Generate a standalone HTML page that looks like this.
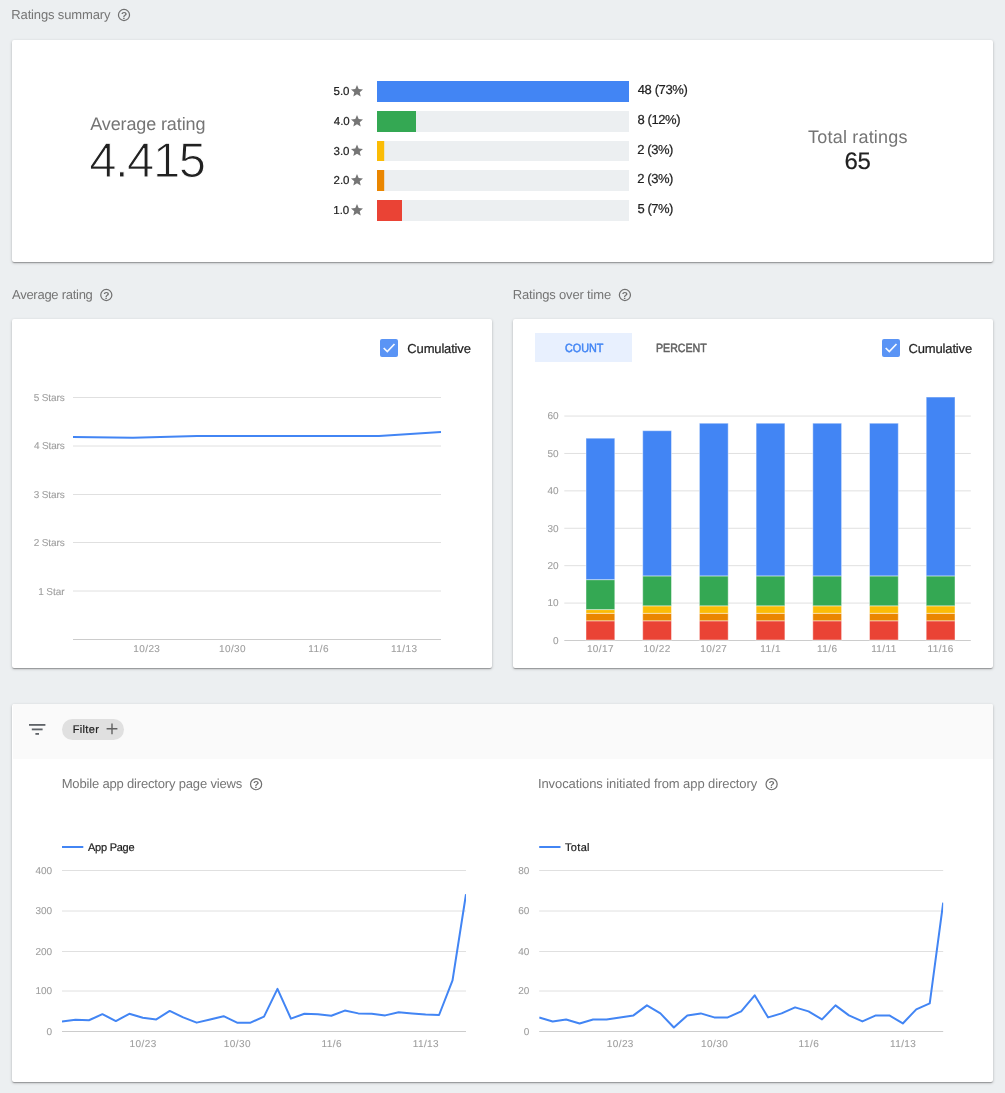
<!DOCTYPE html>
<html lang="en"><head><meta charset="utf-8"><title>Ratings</title>
<style>
html,body{margin:0;padding:0}
body{width:1005px;height:1093px;background:#eceff1;position:relative;overflow:hidden;font-family:"Liberation Sans", Arial, sans-serif;}
.card{position:absolute;background:#fff;border-radius:2px;box-shadow:0 1px 3px rgba(0,0,0,.24),0 1px 1px rgba(0,0,0,.14),0 2px 1px -1px rgba(0,0,0,.12)}
.hdr{position:absolute;left:1px;top:0;right:0;height:54.8px;background:#fafafa;border-radius:2px 2px 0 0}
svg.g{position:absolute;left:0;top:0}
.t{position:absolute;white-space:pre;line-height:normal;font-family:"Liberation Sans", Arial, sans-serif;text-rendering:geometricPrecision;}
.light{-webkit-text-stroke:1.1px #fff;}
.lb{-webkit-text-stroke:.1px currentColor;}
.bd{-webkit-text-stroke:.2px currentColor;}
.med{-webkit-text-stroke:.5px currentColor;}
</style></head>
<body>
<div class="card" style="left:12px;top:40px;width:981px;height:222px"></div>
<div class="card" style="left:12px;top:319px;width:479.5px;height:349px"></div>
<div class="card" style="left:512.6px;top:319px;width:480.4px;height:349px"></div>
<div class="card" style="left:12px;top:704px;width:981px;height:378.3px"><div class="hdr"></div></div>
<svg class="g" width="1005" height="1093" viewBox="0 0 1005 1093">
<circle cx="124.00" cy="15.00" r="5.55" fill="none" stroke="#707070" stroke-width="1.23"/>
<text x="124.05" y="18.55" text-anchor="middle" font-family="Liberation Sans, Arial, sans-serif" font-size="10.2" font-weight="700" fill="#707070" style="text-rendering:geometricPrecision">?</text>
<circle cx="106.30" cy="295.00" r="5.55" fill="none" stroke="#707070" stroke-width="1.23"/>
<text x="106.35" y="298.55" text-anchor="middle" font-family="Liberation Sans, Arial, sans-serif" font-size="10.2" font-weight="700" fill="#707070" style="text-rendering:geometricPrecision">?</text>
<circle cx="624.90" cy="295.00" r="5.55" fill="none" stroke="#707070" stroke-width="1.23"/>
<text x="624.95" y="298.55" text-anchor="middle" font-family="Liberation Sans, Arial, sans-serif" font-size="10.2" font-weight="700" fill="#707070" style="text-rendering:geometricPrecision">?</text>
<rect x="377" y="81" width="252" height="21" fill="#eceff1"/>
<rect x="377" y="81" width="252" height="21" fill="#4285f4"/>
<g transform="translate(349.80 83.90) scale(0.6000)" fill="#757575"><path d="M12 17.27L18.18 21l-1.640-7.030L22 9.240l-7.190-.610L12 2 9.190 8.630 2 9.240l5.460 4.730L5.820 21z"/></g>
<rect x="377" y="111" width="252" height="21" fill="#eceff1"/>
<rect x="377" y="111" width="39" height="21" fill="#34a853"/>
<g transform="translate(349.80 113.90) scale(0.6000)" fill="#757575"><path d="M12 17.27L18.18 21l-1.640-7.030L22 9.240l-7.190-.610L12 2 9.190 8.630 2 9.240l5.460 4.730L5.820 21z"/></g>
<rect x="377" y="141" width="252" height="20" fill="#eceff1"/>
<rect x="377" y="141" width="7.2" height="20" fill="#fbbc05"/>
<g transform="translate(349.80 143.40) scale(0.6000)" fill="#757575"><path d="M12 17.27L18.18 21l-1.640-7.030L22 9.240l-7.190-.610L12 2 9.190 8.630 2 9.240l5.460 4.730L5.820 21z"/></g>
<rect x="377" y="170" width="252" height="21" fill="#eceff1"/>
<rect x="377" y="170" width="7.2" height="21" fill="#ea8600"/>
<g transform="translate(349.80 172.90) scale(0.6000)" fill="#757575"><path d="M12 17.27L18.18 21l-1.640-7.030L22 9.240l-7.190-.610L12 2 9.190 8.630 2 9.240l5.460 4.730L5.820 21z"/></g>
<rect x="377" y="200" width="252" height="21" fill="#eceff1"/>
<rect x="377" y="200" width="25" height="21" fill="#ea4335"/>
<g transform="translate(349.80 202.90) scale(0.6000)" fill="#757575"><path d="M12 17.27L18.18 21l-1.640-7.030L22 9.240l-7.190-.610L12 2 9.190 8.630 2 9.240l5.460 4.730L5.820 21z"/></g>
<rect x="380" y="339" width="18" height="18" rx="2" fill="#5a94f5"/>
<path d="M383.70 348.00 L387.30 351.50 L394.50 344.00" fill="none" stroke="#fff" stroke-opacity=".94" stroke-width="1.7"/>
<line x1="73" x2="441" y1="397.5" y2="397.5" stroke="#e0e0e0" stroke-width="1"/>
<line x1="73" x2="441" y1="446.0" y2="446.0" stroke="#e0e0e0" stroke-width="1"/>
<line x1="73" x2="441" y1="494.5" y2="494.5" stroke="#e0e0e0" stroke-width="1"/>
<line x1="73" x2="441" y1="542.5" y2="542.5" stroke="#e0e0e0" stroke-width="1"/>
<line x1="73" x2="441" y1="591.0" y2="591.0" stroke="#e0e0e0" stroke-width="1"/>
<line x1="73" x2="441" y1="639.5" y2="639.5" stroke="#cccccc" stroke-width="1"/>
<polyline fill="none" stroke="#4285f4" stroke-width="2" stroke-linejoin="round" points="73,437.1 133,437.7 197,436.1 379,436.0 441,432.0"/>
<rect x="535" y="333" width="97" height="29" fill="#e8f0fe"/>
<rect x="882" y="339" width="18" height="18" rx="2" fill="#5a94f5"/>
<path d="M885.70 348.00 L889.30 351.50 L896.50 344.00" fill="none" stroke="#fff" stroke-opacity=".94" stroke-width="1.7"/>
<line x1="564.3" x2="970.8" y1="603.09" y2="603.09" stroke="#e0e0e0" stroke-width="1"/>
<line x1="564.3" x2="970.8" y1="565.68" y2="565.68" stroke="#e0e0e0" stroke-width="1"/>
<line x1="564.3" x2="970.8" y1="528.27" y2="528.27" stroke="#e0e0e0" stroke-width="1"/>
<line x1="564.3" x2="970.8" y1="490.86" y2="490.86" stroke="#e0e0e0" stroke-width="1"/>
<line x1="564.3" x2="970.8" y1="453.45" y2="453.45" stroke="#e0e0e0" stroke-width="1"/>
<line x1="564.3" x2="970.8" y1="416.04" y2="416.04" stroke="#e0e0e0" stroke-width="1"/>
<line x1="564.3" x2="970.8" y1="640.5" y2="640.5" stroke="#cccccc" stroke-width="1"/>
<rect x="586.00" y="620.79" width="28.8" height="19.21" fill="#ea4335" stroke="#fff" stroke-opacity=".45" stroke-width="1"/>
<rect x="586.00" y="613.31" width="28.8" height="7.48" fill="#ea8600" stroke="#fff" stroke-opacity=".45" stroke-width="1"/>
<rect x="586.00" y="609.57" width="28.8" height="3.74" fill="#fbbc05" stroke="#fff" stroke-opacity=".45" stroke-width="1"/>
<rect x="586.00" y="579.64" width="28.8" height="29.93" fill="#34a853" stroke="#fff" stroke-opacity=".45" stroke-width="1"/>
<rect x="586.00" y="438.19" width="28.8" height="141.46" fill="#4285f4" stroke="#fff" stroke-opacity=".45" stroke-width="1"/>
<rect x="642.70" y="620.79" width="28.8" height="19.21" fill="#ea4335" stroke="#fff" stroke-opacity=".45" stroke-width="1"/>
<rect x="642.70" y="613.31" width="28.8" height="7.48" fill="#ea8600" stroke="#fff" stroke-opacity=".45" stroke-width="1"/>
<rect x="642.70" y="605.83" width="28.8" height="7.48" fill="#fbbc05" stroke="#fff" stroke-opacity=".45" stroke-width="1"/>
<rect x="642.70" y="575.90" width="28.8" height="29.93" fill="#34a853" stroke="#fff" stroke-opacity=".45" stroke-width="1"/>
<rect x="642.70" y="430.70" width="28.8" height="145.20" fill="#4285f4" stroke="#fff" stroke-opacity=".45" stroke-width="1"/>
<rect x="699.40" y="620.79" width="28.8" height="19.21" fill="#ea4335" stroke="#fff" stroke-opacity=".45" stroke-width="1"/>
<rect x="699.40" y="613.31" width="28.8" height="7.48" fill="#ea8600" stroke="#fff" stroke-opacity=".45" stroke-width="1"/>
<rect x="699.40" y="605.83" width="28.8" height="7.48" fill="#fbbc05" stroke="#fff" stroke-opacity=".45" stroke-width="1"/>
<rect x="699.40" y="575.90" width="28.8" height="29.93" fill="#34a853" stroke="#fff" stroke-opacity=".45" stroke-width="1"/>
<rect x="699.40" y="423.22" width="28.8" height="152.68" fill="#4285f4" stroke="#fff" stroke-opacity=".45" stroke-width="1"/>
<rect x="756.10" y="620.79" width="28.8" height="19.21" fill="#ea4335" stroke="#fff" stroke-opacity=".45" stroke-width="1"/>
<rect x="756.10" y="613.31" width="28.8" height="7.48" fill="#ea8600" stroke="#fff" stroke-opacity=".45" stroke-width="1"/>
<rect x="756.10" y="605.83" width="28.8" height="7.48" fill="#fbbc05" stroke="#fff" stroke-opacity=".45" stroke-width="1"/>
<rect x="756.10" y="575.90" width="28.8" height="29.93" fill="#34a853" stroke="#fff" stroke-opacity=".45" stroke-width="1"/>
<rect x="756.10" y="423.22" width="28.8" height="152.68" fill="#4285f4" stroke="#fff" stroke-opacity=".45" stroke-width="1"/>
<rect x="812.80" y="620.79" width="28.8" height="19.21" fill="#ea4335" stroke="#fff" stroke-opacity=".45" stroke-width="1"/>
<rect x="812.80" y="613.31" width="28.8" height="7.48" fill="#ea8600" stroke="#fff" stroke-opacity=".45" stroke-width="1"/>
<rect x="812.80" y="605.83" width="28.8" height="7.48" fill="#fbbc05" stroke="#fff" stroke-opacity=".45" stroke-width="1"/>
<rect x="812.80" y="575.90" width="28.8" height="29.93" fill="#34a853" stroke="#fff" stroke-opacity=".45" stroke-width="1"/>
<rect x="812.80" y="423.22" width="28.8" height="152.68" fill="#4285f4" stroke="#fff" stroke-opacity=".45" stroke-width="1"/>
<rect x="869.50" y="620.79" width="28.8" height="19.21" fill="#ea4335" stroke="#fff" stroke-opacity=".45" stroke-width="1"/>
<rect x="869.50" y="613.31" width="28.8" height="7.48" fill="#ea8600" stroke="#fff" stroke-opacity=".45" stroke-width="1"/>
<rect x="869.50" y="605.83" width="28.8" height="7.48" fill="#fbbc05" stroke="#fff" stroke-opacity=".45" stroke-width="1"/>
<rect x="869.50" y="575.90" width="28.8" height="29.93" fill="#34a853" stroke="#fff" stroke-opacity=".45" stroke-width="1"/>
<rect x="869.50" y="423.22" width="28.8" height="152.68" fill="#4285f4" stroke="#fff" stroke-opacity=".45" stroke-width="1"/>
<rect x="926.20" y="620.79" width="28.8" height="19.21" fill="#ea4335" stroke="#fff" stroke-opacity=".45" stroke-width="1"/>
<rect x="926.20" y="613.31" width="28.8" height="7.48" fill="#ea8600" stroke="#fff" stroke-opacity=".45" stroke-width="1"/>
<rect x="926.20" y="605.83" width="28.8" height="7.48" fill="#fbbc05" stroke="#fff" stroke-opacity=".45" stroke-width="1"/>
<rect x="926.20" y="575.90" width="28.8" height="29.93" fill="#34a853" stroke="#fff" stroke-opacity=".45" stroke-width="1"/>
<rect x="926.20" y="397.04" width="28.8" height="178.87" fill="#4285f4" stroke="#fff" stroke-opacity=".45" stroke-width="1"/>
<g fill="#5f6368"><rect x="29" y="724" width="16.4" height="1.8"/><rect x="31.8" y="728.5" width="10.8" height="1.8"/><rect x="35.4" y="733" width="3.6" height="1.8"/></g>
<rect x="62" y="719" width="62" height="21" rx="10.5" fill="#e0e0e0"/>
<path d="M106.6 728.8h10.8M112 723.4v10.8" stroke="#616161" stroke-width="1.4" fill="none"/>
<circle cx="256.10" cy="784.20" r="5.55" fill="none" stroke="#707070" stroke-width="1.23"/>
<text x="256.15" y="787.75" text-anchor="middle" font-family="Liberation Sans, Arial, sans-serif" font-size="10.2" font-weight="700" fill="#707070" style="text-rendering:geometricPrecision">?</text>
<circle cx="771.60" cy="784.20" r="5.55" fill="none" stroke="#707070" stroke-width="1.23"/>
<text x="771.65" y="787.75" text-anchor="middle" font-family="Liberation Sans, Arial, sans-serif" font-size="10.2" font-weight="700" fill="#707070" style="text-rendering:geometricPrecision">?</text>
<clipPath id="c62"><rect x="62" y="860" width="404" height="180"/></clipPath>
<line x1="62" x2="466" y1="1031.50" y2="1031.50" stroke="#cccccc" stroke-width="1"/>
<line x1="62" x2="466" y1="991.00" y2="991.00" stroke="#e0e0e0" stroke-width="1"/>
<line x1="62" x2="466" y1="951.50" y2="951.50" stroke="#e0e0e0" stroke-width="1"/>
<line x1="62" x2="466" y1="911.00" y2="911.00" stroke="#e0e0e0" stroke-width="1"/>
<line x1="62" x2="466" y1="870.50" y2="870.50" stroke="#e0e0e0" stroke-width="1"/>
<polyline clip-path="url(#c62)" fill="none" stroke="#4285f4" stroke-width="2" stroke-linejoin="round" points="62.00,1021.44 75.47,1019.83 88.93,1020.23 102.40,1014.19 115.87,1021.03 129.33,1013.79 142.80,1017.82 156.27,1019.42 169.73,1010.97 183.20,1017.41 196.67,1022.64 210.13,1019.42 223.60,1016.21 237.07,1022.64 250.53,1022.64 264.00,1016.61 277.47,988.84 290.93,1018.62 304.40,1013.79 317.87,1014.19 331.33,1015.80 344.80,1010.57 358.27,1013.39 371.73,1013.79 385.20,1015.40 398.67,1012.18 412.13,1013.39 425.60,1014.60 439.07,1015.00 452.53,980.38 466.00,894.25"/>
<line x1="62" x2="83.3" y1="847" y2="847" stroke="#4285f4" stroke-width="2"/>
<clipPath id="c539"><rect x="539.2" y="860" width="404.0" height="180"/></clipPath>
<line x1="539.2" x2="943.2" y1="1031.50" y2="1031.50" stroke="#cccccc" stroke-width="1"/>
<line x1="539.2" x2="943.2" y1="991.00" y2="991.00" stroke="#e0e0e0" stroke-width="1"/>
<line x1="539.2" x2="943.2" y1="951.50" y2="951.50" stroke="#e0e0e0" stroke-width="1"/>
<line x1="539.2" x2="943.2" y1="911.00" y2="911.00" stroke="#e0e0e0" stroke-width="1"/>
<line x1="539.2" x2="943.2" y1="870.50" y2="870.50" stroke="#e0e0e0" stroke-width="1"/>
<polyline clip-path="url(#c539)" fill="none" stroke="#4285f4" stroke-width="2" stroke-linejoin="round" points="539.20,1017.41 552.67,1021.44 566.13,1019.42 579.60,1023.45 593.07,1019.42 606.53,1019.42 620.00,1017.41 633.47,1015.40 646.93,1005.34 660.40,1013.39 673.87,1027.47 687.33,1015.40 700.80,1013.39 714.27,1017.41 727.73,1017.41 741.20,1011.38 754.67,995.27 768.13,1017.41 781.60,1013.39 795.07,1007.35 808.53,1011.38 822.00,1019.42 835.47,1005.34 848.93,1015.40 862.40,1021.44 875.87,1015.40 889.33,1015.40 902.80,1023.45 916.27,1009.36 929.73,1003.33 943.20,902.70"/>
<line x1="539.2" x2="560.5" y1="847" y2="847" stroke="#4285f4" stroke-width="2"/>
</svg>
<span class="t" id="t0" style="top:7.00px;font-size:13px;color:#757575;letter-spacing:-0.143px;left:11.30px;">Ratings summary</span>
<span class="t" id="t1" style="top:287.00px;font-size:13px;color:#757575;letter-spacing:-0.269px;left:12.00px;">Average rating</span>
<span class="t" id="t2" style="top:287.00px;font-size:13px;color:#757575;letter-spacing:-0.169px;left:512.70px;">Ratings over time</span>
<span class="t" id="t3" style="top:113.80px;font-size:18px;color:#757575;letter-spacing:-0.115px;left:90.20px;">Average rating</span>
<span class="t light" id="t4" style="top:133.00px;font-size:49px;color:#212121;letter-spacing:-1.475px;left:89.20px;">4.415</span>
<span class="t" id="t5" style="top:126.70px;font-size:18px;color:#757575;letter-spacing:0.192px;left:808.10px;">Total ratings</span>
<span class="t bd" id="t6" style="top:147.70px;font-size:24px;color:#212121;letter-spacing:-0.300px;left:844.45px;">65</span>
<span class="t bd" id="t7" style="top:86.00px;font-size:11.5px;color:#212121;left:333.50px;">5.0</span>
<span class="t bd" id="t8" style="top:82.00px;font-size:13px;color:#212121;letter-spacing:-0.393px;left:637.75px;">48 (73%)</span>
<span class="t bd" id="t9" style="top:116.00px;font-size:11.5px;color:#212121;left:333.75px;">4.0</span>
<span class="t bd" id="t10" style="top:112.00px;font-size:13px;color:#212121;letter-spacing:-0.408px;left:637.50px;">8 (12%)</span>
<span class="t bd" id="t11" style="top:146.00px;font-size:11.5px;color:#212121;left:333.50px;">3.0</span>
<span class="t bd" id="t12" style="top:142.00px;font-size:13px;color:#212121;letter-spacing:-0.430px;left:637.25px;">2 (3%)</span>
<span class="t bd" id="t13" style="top:175.00px;font-size:11.5px;color:#212121;left:333.50px;">2.0</span>
<span class="t bd" id="t14" style="top:171.00px;font-size:13px;color:#212121;letter-spacing:-0.430px;left:637.25px;">2 (3%)</span>
<span class="t bd" id="t15" style="top:205.00px;font-size:11.5px;color:#212121;left:333.25px;">1.0</span>
<span class="t bd" id="t16" style="top:201.00px;font-size:13px;color:#212121;letter-spacing:-0.480px;left:637.50px;">5 (7%)</span>
<span class="t bd" id="t17" style="top:341.00px;font-size:13px;color:#212121;letter-spacing:-0.161px;left:407.35px;">Cumulative</span>
<span class="t lb" id="t18" style="top:393.00px;font-size:10px;color:#9e9e9e;letter-spacing:-0.092px;left:33.65px;">5 Stars</span>
<span class="t lb" id="t19" style="top:441.00px;font-size:10px;color:#9e9e9e;letter-spacing:-0.133px;left:33.90px;">4 Stars</span>
<span class="t lb" id="t20" style="top:490.00px;font-size:10px;color:#9e9e9e;letter-spacing:-0.092px;left:33.65px;">3 Stars</span>
<span class="t lb" id="t21" style="top:538.00px;font-size:10px;color:#9e9e9e;letter-spacing:-0.092px;left:33.65px;">2 Stars</span>
<span class="t lb" id="t22" style="top:587.00px;font-size:10px;color:#9e9e9e;letter-spacing:-0.070px;left:38.15px;">1 Star</span>
<span class="t lb" id="t23" style="top:644.20px;font-size:10px;color:#9e9e9e;letter-spacing:0.400px;left:133.30px;">10/23</span>
<span class="t lb" id="t24" style="top:644.20px;font-size:10px;color:#9e9e9e;letter-spacing:0.400px;left:219.00px;">10/30</span>
<span class="t lb" id="t25" style="top:644.20px;font-size:10px;color:#9e9e9e;letter-spacing:0.500px;left:308.25px;">11/6</span>
<span class="t lb" id="t26" style="top:644.20px;font-size:10px;color:#9e9e9e;letter-spacing:0.400px;left:391.07px;">11/13</span>
<span class="t med" id="t27" style="top:341.20px;font-size:12px;color:#4285f4;transform:scaleX(0.9000);transform-origin:0 0;left:564.85px;">COUNT</span>
<span class="t med" id="t28" style="top:341.20px;font-size:12px;color:#616161;transform:scaleX(0.8857);transform-origin:0 0;left:655.71px;">PERCENT</span>
<span class="t bd" id="t29" style="top:341.00px;font-size:13px;color:#212121;letter-spacing:-0.161px;left:908.55px;">Cumulative</span>
<span class="t lb" id="t30" style="top:636.00px;font-size:10px;color:#9e9e9e;left:553.05px;">0</span>
<span class="t lb" id="t31" style="top:598.00px;font-size:10px;color:#9e9e9e;left:547.55px;">10</span>
<span class="t lb" id="t32" style="top:561.00px;font-size:10px;color:#9e9e9e;left:547.55px;">20</span>
<span class="t lb" id="t33" style="top:524.00px;font-size:10px;color:#9e9e9e;left:547.55px;">30</span>
<span class="t lb" id="t34" style="top:486.00px;font-size:10px;color:#9e9e9e;left:547.55px;">40</span>
<span class="t lb" id="t35" style="top:449.00px;font-size:10px;color:#9e9e9e;left:547.55px;">50</span>
<span class="t lb" id="t36" style="top:411.00px;font-size:10px;color:#9e9e9e;left:547.55px;">60</span>
<span class="t lb" id="t37" style="top:644.20px;font-size:10px;color:#9e9e9e;letter-spacing:0.400px;left:586.90px;">10/17</span>
<span class="t lb" id="t38" style="top:644.20px;font-size:10px;color:#9e9e9e;letter-spacing:0.400px;left:643.60px;">10/22</span>
<span class="t lb" id="t39" style="top:644.20px;font-size:10px;color:#9e9e9e;letter-spacing:0.400px;left:700.30px;">10/27</span>
<span class="t lb" id="t40" style="top:644.20px;font-size:10px;color:#9e9e9e;letter-spacing:0.500px;left:760.25px;">11/1</span>
<span class="t lb" id="t41" style="top:644.20px;font-size:10px;color:#9e9e9e;letter-spacing:0.500px;left:816.95px;">11/6</span>
<span class="t lb" id="t42" style="top:644.20px;font-size:10px;color:#9e9e9e;letter-spacing:0.400px;left:871.15px;">11/11</span>
<span class="t lb" id="t43" style="top:644.20px;font-size:10px;color:#9e9e9e;letter-spacing:0.400px;left:927.48px;">11/16</span>
<span class="t bd" id="t44" style="top:724.00px;font-size:11px;color:#212121;letter-spacing:0.350px;left:72.70px;">Filter</span>
<span class="t" id="t45" style="top:776.30px;font-size:13px;color:#757575;letter-spacing:-0.172px;left:61.70px;">Mobile app directory page views</span>
<span class="t" id="t46" style="top:776.30px;font-size:13px;color:#757575;letter-spacing:-0.083px;left:537.95px;">Invocations initiated from app directory</span>
<span class="t lb" id="t47" style="top:1027.00px;font-size:10px;color:#9e9e9e;left:46.45px;">0</span>
<span class="t lb" id="t48" style="top:986.00px;font-size:10px;color:#9e9e9e;left:35.45px;">100</span>
<span class="t lb" id="t49" style="top:947.00px;font-size:10px;color:#9e9e9e;left:35.45px;">200</span>
<span class="t lb" id="t50" style="top:906.00px;font-size:10px;color:#9e9e9e;left:35.45px;">300</span>
<span class="t lb" id="t51" style="top:866.00px;font-size:10px;color:#9e9e9e;left:35.45px;">400</span>
<span class="t lb" id="t52" style="top:1039.10px;font-size:10px;color:#9e9e9e;letter-spacing:0.400px;left:129.60px;">10/23</span>
<span class="t lb" id="t53" style="top:1039.10px;font-size:10px;color:#9e9e9e;letter-spacing:0.400px;left:223.87px;">10/30</span>
<span class="t lb" id="t54" style="top:1039.10px;font-size:10px;color:#9e9e9e;letter-spacing:0.500px;left:321.38px;">11/6</span>
<span class="t lb" id="t55" style="top:1039.10px;font-size:10px;color:#9e9e9e;letter-spacing:0.400px;left:412.78px;">11/13</span>
<span class="t bd" id="t56" style="top:842.00px;font-size:11px;color:#212121;letter-spacing:-0.250px;left:88.00px;">App Page</span>
<span class="t lb" id="t57" style="top:1027.00px;font-size:10px;color:#9e9e9e;left:523.65px;">0</span>
<span class="t lb" id="t58" style="top:986.00px;font-size:10px;color:#9e9e9e;left:518.15px;">20</span>
<span class="t lb" id="t59" style="top:947.00px;font-size:10px;color:#9e9e9e;left:518.15px;">40</span>
<span class="t lb" id="t60" style="top:906.00px;font-size:10px;color:#9e9e9e;left:518.15px;">60</span>
<span class="t lb" id="t61" style="top:866.00px;font-size:10px;color:#9e9e9e;left:518.15px;">80</span>
<span class="t lb" id="t62" style="top:1039.10px;font-size:10px;color:#9e9e9e;letter-spacing:0.400px;left:606.80px;">10/23</span>
<span class="t lb" id="t63" style="top:1039.10px;font-size:10px;color:#9e9e9e;letter-spacing:0.400px;left:701.07px;">10/30</span>
<span class="t lb" id="t64" style="top:1039.10px;font-size:10px;color:#9e9e9e;letter-spacing:0.500px;left:798.58px;">11/6</span>
<span class="t lb" id="t65" style="top:1039.10px;font-size:10px;color:#9e9e9e;letter-spacing:0.400px;left:889.98px;">11/13</span>
<span class="t bd" id="t66" style="top:842.00px;font-size:11px;color:#212121;letter-spacing:0.338px;left:564.95px;">Total</span>
</body></html>
